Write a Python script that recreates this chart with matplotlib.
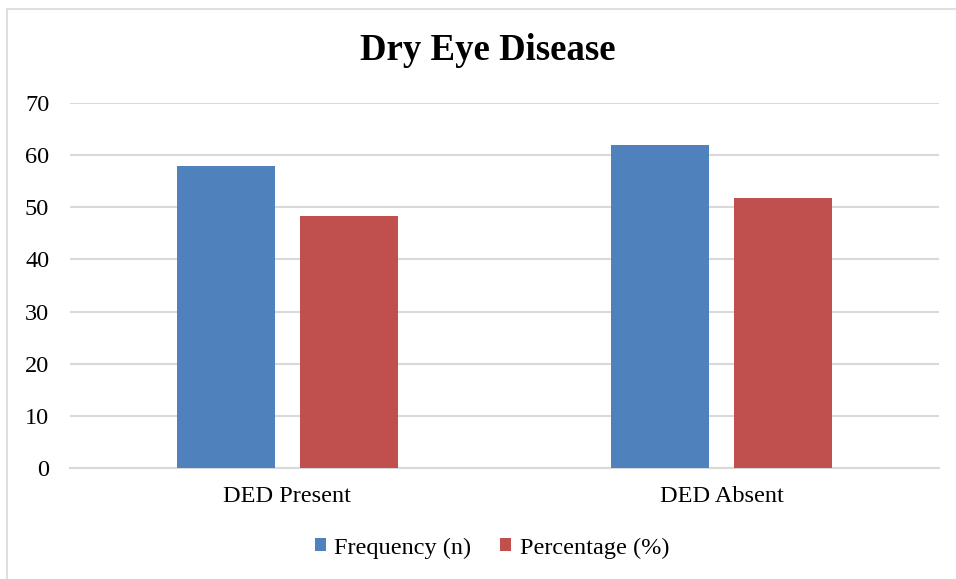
import matplotlib
matplotlib.use("Agg")
import matplotlib.pyplot as plt
from matplotlib.patches import Rectangle
import numpy as np

categories = ["DED Present", "DED Absent"]
frequency = [58, 62]
percentage = [48.3, 51.7]
series_names = ["Frequency (n)", "Percentage (%)"]
colors = ["#4F81BD", "#C0504D"]
yticks = [0, 10, 20, 30, 40, 50, 60, 70]

plt.rcParams["font.family"] = ["Liberation Serif", "DejaVu Serif"]

fig = plt.figure(figsize=(9.56, 5.79), dpi=100)
W, H = 956, 579

# chart frame
fig.patches.append(Rectangle((7 / W, -0.1), 1.2, 1.1 - 9 / H, transform=fig.transFigure,
                             fill=False, edgecolor="#D9D9D9", linewidth=1.2))

ax = fig.add_axes([70 / W, 1 - 468 / H, (939 - 70) / W, (468 - 103) / H])
x = np.arange(len(categories))
bw = 0.225
off = 0.1415
ax.bar(x - off, frequency, bw, color=colors[0], label=series_names[0], zorder=3)
ax.bar(x + off, percentage, bw, color=colors[1], label=series_names[1], zorder=3)

ax.set_xlim(-0.5, 1.5)
ax.set_ylim(0, 70)
ax.set_yticks(yticks)
ax.set_yticklabels([str(t) for t in yticks], fontsize=17.5)
ax.set_xticks(x)
ax.set_xticklabels(categories, fontsize=17.5)
ax.tick_params(axis="both", length=0, colors="black")
ax.tick_params(axis="y", pad=15)
ax.tick_params(axis="x", pad=13)
ax.grid(axis="y", color="#D9D9D9", linewidth=1.5, zorder=0)
for s in ["top", "right", "left"]:
    ax.spines[s].set_visible(False)
ax.spines["bottom"].set_color("#D9D9D9")
ax.spines["bottom"].set_linewidth(1.5)

fig.text(488 / W, 1 - 51 / H, "Dry Eye Disease", ha="center", va="center",
         fontsize=26.5, fontweight="bold")

fig.legend(loc="center", bbox_to_anchor=(492 / W, 1 - 548 / H), ncol=2,
           frameon=False, fontsize=17.5, handlelength=0.45, handleheight=0.45,
           handletextpad=0.35, columnspacing=1.2)

fig.savefig("out.png", dpi=100)
